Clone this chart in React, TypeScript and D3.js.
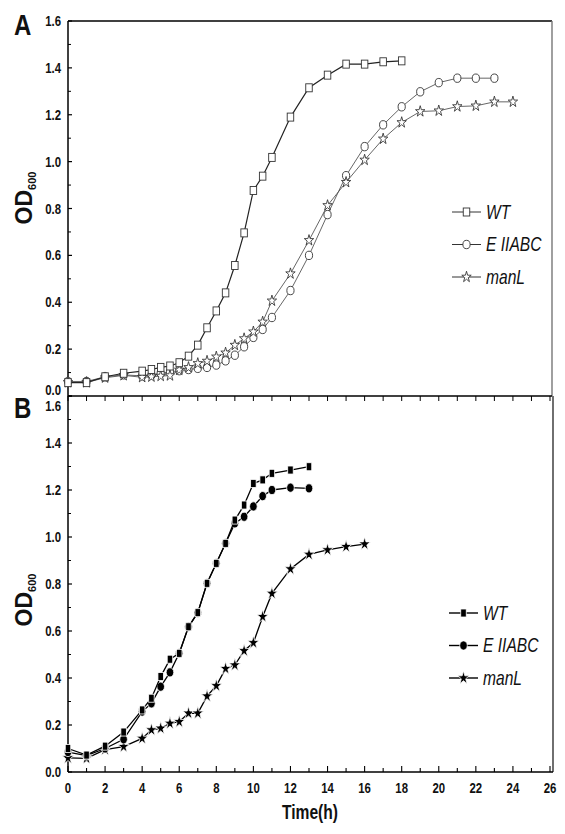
import React from "react";
import * as d3 from "d3";

// ---------- data ----------
const yTickValues = [0, 0.2, 0.4, 0.6, 0.8, 1.0, 1.2, 1.4, 1.6];
const yTickLabels = ["0.0", "0.2", "0.4", "0.6", "0.8", "1.0", "1.2", "1.4", "1.6"];
const xTickValues = [0, 2, 4, 6, 8, 10, 12, 14, 16, 18, 20, 22, 24, 26];
const xTickLabels = ["0", "2", "4", "6", "8", "10", "12", "14", "16", "18", "20", "22", "24", "26"];
const seriesNames = ["WT", "E IIABC", "manL"];

// Panel A
const aWtTime = [0, 1, 2, 3, 4, 4.5, 5, 5.5, 6, 6.5, 7, 7.5, 8, 8.5, 9, 9.5, 10, 10.5, 11, 12, 13, 14, 15, 16, 17, 18];
const aWtOD = [0.057, 0.057, 0.082, 0.097, 0.106, 0.113, 0.122, 0.128, 0.142, 0.17, 0.217, 0.291, 0.363, 0.44, 0.557, 0.696, 0.877, 0.938, 1.018, 1.19, 1.315, 1.369, 1.416, 1.416, 1.426, 1.43];
const aEiiTime = [0, 1, 2, 3, 4, 4.5, 5, 5.5, 6, 6.5, 7, 7.5, 8, 8.5, 9, 9.5, 10, 10.5, 11, 12, 13, 14, 15, 16, 17, 18, 19, 20, 21, 22, 23];
const aEiiOD = [0.062, 0.062, 0.082, 0.09, 0.086, 0.089, 0.097, 0.103, 0.108, 0.113, 0.118, 0.122, 0.132, 0.15, 0.174, 0.21, 0.25, 0.284, 0.335, 0.45, 0.6, 0.774, 0.94, 1.064, 1.157, 1.234, 1.298, 1.337, 1.356, 1.356, 1.356];
const aManTime = [0, 1, 2, 3, 4, 4.5, 5, 5.5, 6, 6.5, 7, 7.5, 8, 8.5, 9, 9.5, 10, 10.5, 11, 12, 13, 14, 15, 16, 17, 18, 19, 20, 21, 22, 23, 24];
const aManOD = [0.058, 0.058, 0.078, 0.088, 0.08, 0.082, 0.085, 0.087, 0.111, 0.122, 0.139, 0.149, 0.167, 0.184, 0.217, 0.245, 0.274, 0.316, 0.406, 0.522, 0.664, 0.813, 0.912, 1.007, 1.097, 1.167, 1.214, 1.217, 1.235, 1.238, 1.255, 1.255];

// Panel B
const bWtTime = [0, 1, 2, 3, 4, 4.5, 5, 5.5, 6, 6.5, 7, 7.5, 8, 8.5, 9, 9.5, 10, 10.5, 11, 12, 13];
const bWtOD = [0.1, 0.072, 0.11, 0.17, 0.264, 0.314, 0.406, 0.48, 0.505, 0.618, 0.678, 0.803, 0.888, 0.973, 1.072, 1.136, 1.228, 1.243, 1.271, 1.285, 1.299];
const bEiiTime = [0, 1, 2, 3, 4, 4.5, 5, 5.5, 6, 6.5, 7, 7.5, 8, 8.5, 9, 9.5, 10, 10.5, 11, 12, 13];
const bEiiOD = [0.085, 0.07, 0.1, 0.139, 0.257, 0.292, 0.363, 0.424, 0.505, 0.618, 0.678, 0.803, 0.888, 0.973, 1.058, 1.086, 1.13, 1.174, 1.2, 1.21, 1.207];
const bManTime = [0, 1, 2, 3, 4, 4.5, 5, 5.5, 6, 6.5, 7, 7.5, 8, 8.5, 9, 9.5, 10, 10.5, 11, 12, 13, 14, 15, 16];
const bManOD = [0.06, 0.058, 0.095, 0.108, 0.143, 0.179, 0.186, 0.207, 0.214, 0.25, 0.25, 0.323, 0.367, 0.44, 0.455, 0.516, 0.55, 0.661, 0.76, 0.864, 0.926, 0.945, 0.959, 0.97];

// ---------- layout ----------
const W = 565;
const H = 834;
const LEFT = 68;
const FONT = "'Liberation Sans', Arial, sans-serif";

const x = d3.scaleLinear().domain([0, 26]).range([LEFT, 550]);
const yA = d3.scaleLinear().domain([0, 1.6]).range([396, 21]);
const yB = d3.scaleLinear().domain([0, 1.6]).range([772, 396]);

type Pt = [number, number];
const zip = (t: number[], v: number[]): Pt[] => t.map((d, i) => [d, v[i]]);

function NText({ x: tx, y: ty, anchor = "start", size, bold = false, italic = false, sx = 0.76, children }: any) {
  return (
    <text
      transform={`translate(${tx},${ty}) scale(${sx},1)`}
      textAnchor={anchor}
      dominantBaseline="central"
      fontFamily={FONT}
      fontWeight={bold ? "bold" : "normal"}
      fontStyle={italic ? "italic" : "normal"}
      fontSize={size}
      fill="#111"
    >
      {children}
    </text>
  );
}

function Marker({ kind, cx, cy, filled }: { kind: string; cx: number; cy: number; filled: boolean }) {
  const fill = filled ? "#000" : "#fff";
  const stroke = filled ? "#fff" : "#333";
  const sw = filled ? 0.8 : 0.9;
  if (kind === "square") {
    const w = filled ? 5.5 : 6.5;
    const h = 8;
    return <rect x={cx - w / 2} y={cy - h / 2} width={w} height={h} fill={fill} stroke={stroke} strokeWidth={sw} />;
  }
  if (kind === "circle") {
    return <ellipse cx={cx} cy={cy} rx={filled ? 3.8 : 3.6} ry={filled ? 4.6 : 4.2} fill={fill} stroke={stroke} strokeWidth={sw} />;
  }
  const path = d3.symbol().type(d3.symbolStar).size(filled ? 50 : 34)() as string;
  return <path d={path} transform={`translate(${cx},${cy}) scale(0.9,1.05)`} fill={fill} stroke={stroke} strokeWidth={sw} />;
}

function Series({ data, y, kind, filled, lineColor, lineWidth }: { data: Pt[]; y: d3.ScaleLinear<number, number>; kind: string; filled: boolean; lineColor: string; lineWidth: number }) {
  const line = d3.line<Pt>().x((d) => x(d[0])).y((d) => y(d[1]));
  return (
    <g>
      <path d={line(data) as string} fill="none" stroke={lineColor} strokeWidth={lineWidth} />
      {data.map((d, i) => (
        <Marker key={i} kind={kind} cx={x(d[0])} cy={y(d[1])} filled={filled} />
      ))}
    </g>
  );
}

function YAxis({ y, top, bottom, labelShift }: { y: d3.ScaleLinear<number, number>; top: number; bottom: number; labelShift: Record<number, number> }) {
  const minor = d3.range(0.1, 1.6, 0.2);
  return (
    <g>
      <line x1={LEFT} x2={LEFT} y1={top} y2={bottom} stroke="#000" strokeWidth={1.5} />
      {yTickValues.map((v, i) => (
        <g key={"M" + i}>
          <line x1={LEFT} x2={LEFT + 4} y1={y(v)} y2={y(v)} stroke="#000" strokeWidth={1.2} />
          <NText x={61} y={y(v) + (labelShift[i] || 0)} anchor="end" size={15} bold>
            {yTickLabels[i]}
          </NText>
        </g>
      ))}
      {minor.map((v, i) => (
        <line key={"m" + i} x1={LEFT} x2={LEFT + 3} y1={y(v)} y2={y(v)} stroke="#000" strokeWidth={1} />
      ))}
    </g>
  );
}

function ODLabel({ cy }: { cy: number }) {
  return (
    <text transform={`translate(32,${cy}) rotate(-90)`} textAnchor="middle" fontFamily={FONT} fontWeight="bold" fontSize={23} fill="#111">
      OD
      <tspan fontSize={11} dy={4}>600</tspan>
    </text>
  );
}

function Legend({ x0, y0, gap, kinds, filled }: { x0: number; y0: number; gap: number; kinds: string[]; filled: boolean }) {
  return (
    <g>
      {seriesNames.map((name, i) => {
        const yy = y0 + i * gap;
        return (
          <g key={name}>
            <line x1={x0} x2={x0 + 29} y1={yy} y2={yy} stroke={filled ? "#000" : "#333"} strokeWidth={filled ? 1.4 : 1} />
            <Marker kind={kinds[i]} cx={x0 + 14.5} cy={yy} filled={filled} />
            <NText x={x0 + 34} y={yy} size={20} italic sx={0.78}>
              {name}
            </NText>
          </g>
        );
      })}
    </g>
  );
}

export default function App() {
  const kinds = ["square", "circle", "star"];
  const hours = d3.range(0, 27, 1);
  return (
    <svg width={W} height={H} style={{ position: "absolute", left: 0, top: 0, background: "#fff" }}>
      <rect width={W} height={H} fill="#fff" />

      {/* Panel A frame */}
      <line x1={LEFT} x2={552} y1={21} y2={21} stroke="#000" strokeWidth={1.4} />
      <line x1={552} x2={552} y1={21} y2={396} stroke="#777" strokeWidth={1.4} />
      <line x1={LEFT} x2={552} y1={396} y2={396} stroke="#000" strokeWidth={1.5} />
      {hours.map((h) => (
        <line key={"ta" + h} x1={x(h)} x2={x(h)} y1={396} y2={401} stroke="#000" strokeWidth={1} />
      ))}
      <YAxis y={yA} top={21} bottom={396} labelShift={{ 0: -6 }} />

      {/* Panel B frame */}
      <line x1={553} x2={553} y1={396} y2={772} stroke="#333" strokeWidth={1.4} />
      <line x1={LEFT} x2={553} y1={772} y2={772} stroke="#000" strokeWidth={1.5} />
      {hours.map((h) => (
        <line key={"tb" + h} x1={x(h)} x2={x(h)} y1={772} y2={h % 2 === 0 ? 766 : 768} stroke="#000" strokeWidth={1.1} />
      ))}
      <YAxis y={yB} top={396} bottom={772} labelShift={{ 8: 10 }} />
      {xTickValues.map((v, i) => (
        <NText key={"xl" + i} x={x(v)} y={788} anchor="middle" size={15} bold>
          {xTickLabels[i]}
        </NText>
      ))}
      <NText x={310} y={812} anchor="middle" size={20} bold sx={0.78}>
        Time(h)
      </NText>

      <ODLabel cy={198} />
      <ODLabel cy={600} />

      <NText x={14} y={25} size={30} bold sx={0.8}>A</NText>
      <NText x={14} y={408} size={30} bold sx={0.8}>B</NText>

      {/* Panel A series */}
      <Series data={zip(aEiiTime, aEiiOD)} y={yA} kind="circle" filled={false} lineColor="#555" lineWidth={0.9} />
      <Series data={zip(aManTime, aManOD)} y={yA} kind="star" filled={false} lineColor="#555" lineWidth={0.9} />
      <Series data={zip(aWtTime, aWtOD)} y={yA} kind="square" filled={false} lineColor="#222" lineWidth={1.2} />
      <Legend x0={452} y0={212} gap={32.5} kinds={kinds} filled={false} />

      {/* Panel B series */}
      <Series data={zip(bManTime, bManOD)} y={yB} kind="star" filled={true} lineColor="#000" lineWidth={1.3} />
      <Series data={zip(bEiiTime, bEiiOD)} y={yB} kind="circle" filled={true} lineColor="#000" lineWidth={1.3} />
      <Series data={zip(bWtTime, bWtOD)} y={yB} kind="square" filled={true} lineColor="#000" lineWidth={1.3} />
      <Legend x0={449} y0={613} gap={32.5} kinds={kinds} filled={true} />
    </svg>
  );
}
